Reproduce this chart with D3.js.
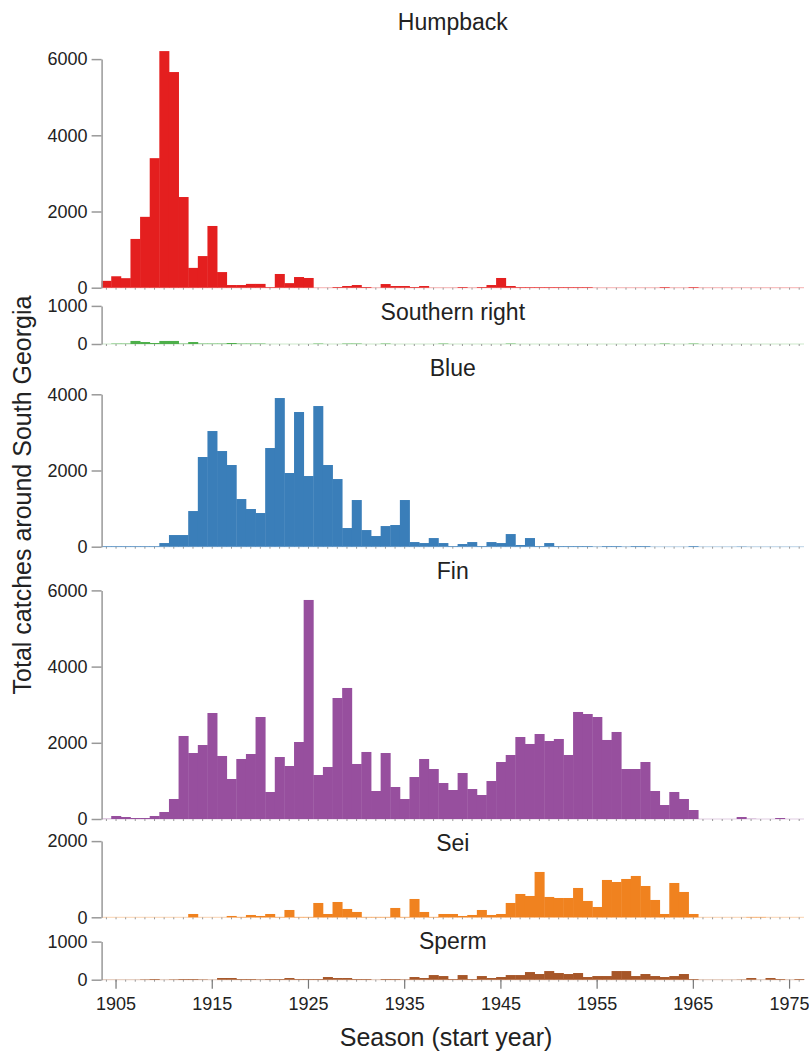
<!DOCTYPE html>
<html>
<head>
<meta charset="utf-8">
<script src="https://cdn.jsdelivr.net/npm/d3@7"></script>
<style>
  body { margin: 0; background: #fff; }
  text { font-family: "Liberation Sans", Arial, Helvetica, sans-serif; fill: #222; }
</style>
</head>
<body>
<script>
// Seasons 1904 .. 1976
var years = d3.range(1904, 1977);

var species = ['Humpback', 'Southern right', 'Blue', 'Fin', 'Sei', 'Sperm'];
var colors = ['#e41f1f', '#4daf4a', '#3a7eb9', '#974f9e', '#f0821f', '#a65628'];

var humpback = [180, 300, 250, 1280, 1860, 3400, 6210, 5660, 2380, 520, 830, 1620, 410, 70, 70, 100, 100, 15,
  360, 120, 280, 255, 0, 0, 18, 44, 70, 18, 0, 96, 44, 44, 18, 44, 0, 0, 0, 18, 0, 18, 70, 255, 44,
  15, 15, 15, 15, 15, 15, 15, 15, 0, 0, 0, 0, 0, 0, 0, 15, 0, 0, 15,
  0, 0, 0, 0, 0, 0, 0, 0, 0, 0, 0];
var southernRight = [0, 10, 10, 80, 52, 26, 80, 80, 10, 52, 10, 10, 10, 26, 10, 10, 10,
  0, 0, 0, 0, 0, 10, 0, 0, 10, 10, 0, 0, 10, 0, 0, 0, 0, 0, 10, 0, 0, 0, 0, 0, 0, 10,
  0, 0, 0, 0, 0, 0, 0, 0, 0, 0, 0, 0, 0, 0, 0, 10, 0, 0, 10,
  0, 0, 0, 0, 0, 0, 0, 0, 0, 0, 0];
var blue = [15, 15, 15, 15, 15, 15, 96, 306, 306, 936, 2354, 3036, 2511, 2144, 1251, 989, 884,
  2590, 3902, 1934, 3535, 1855, 3692, 2144, 1776, 490, 1225, 437, 280, 542, 569, 1225, 122, 96,
  227, 96, 17, 70, 122, 17, 122, 96, 332, 44, 227, 17, 96, 17, 17, 17, 17, 5, 17, 17, 5, 17, 17,
  0, 0, 0, 0, 17, 0, 0, 0, 0, 5, 0, 0, 0, 0, 0, 0];
var fin = [5, 79, 52, 26, 26, 79, 184, 525, 2179, 1732, 1942, 2782, 1654, 1050, 1575, 1706, 2677,
  709, 1627, 1391, 2021, 5749, 1155, 1365, 3176, 3439, 1444, 1759, 735, 1732, 840, 525, 1102, 1575,
  1312, 945, 761, 1207, 787, 630, 997, 1496, 1680, 2152, 1969, 2231, 2047, 2100, 1680, 2809, 2756,
  2677, 2074, 2284, 1312, 1312, 1496, 735, 367, 709, 525, 236, 0, 0, 0, 0, 52, 5, 0, 0, 26, 0, 0];
var sei = [0, 0, 0, 0, 0, 0, 0, 0, 0, 87, 0, 0, 0, 35, 9, 61, 35, 87, 9, 192, 9, 9, 376, 87, 402,
  219, 140, 9, 9, 9, 245, 9, 481, 140, 9, 87, 87, 35, 61, 192, 61, 87, 376, 612, 560, 1190, 534,
  507, 507, 770, 429, 271, 980, 927, 1006, 1085, 822, 455, 87, 901, 665, 87,
  0, 0, 0, 0, 0, 9, 9, 0, 0, 0, 0];
var sperm = [0, 0, 0, 0, 8, 17, 0, 8, 17, 17, 8, 0, 44, 44, 17, 17, 8, 17, 17, 44, 17, 17, 17, 70,
  44, 44, 17, 17, 0, 17, 17, 8, 70, 44, 122, 96, 17, 122, 17, 96, 44, 70, 122, 122, 201, 149, 227,
  175, 149, 175, 70, 96, 96, 227, 227, 96, 149, 96, 70, 96, 149, 17, 0, 0, 0, 0, 5, 44, 0, 44, 17, 0, 17];

var series = [humpback, southernRight, blue, fin, sei, sperm];
var yTicks = [[0, 2000, 4000, 6000], [0, 1000], [0, 2000, 4000], [0, 2000, 4000, 6000], [0, 2000], [0, 1000]];
var xTicks = [1905, 1915, 1925, 1935, 1945, 1955, 1965, 1975];

// layout
var width = 809, height = 1053;
var pxPerCatch = 0.0381;
var baselines = [287.7, 344, 546.7, 819, 917.3, 979.7];

var svg = d3.select('body').append('svg')
  .attr('width', width)
  .attr('height', height);

var x = d3.scaleBand()
  .domain(years)
  .range([101.6, 804])
  .padding(0);

species.forEach(function (name, i) {
  var base = baselines[i];
  var yMax = yTicks[i][yTicks[i].length - 1];
  var y = d3.scaleLinear()
    .domain([0, yMax])
    .range([base, base - yMax * pxPerCatch]);

  var g = svg.append('g').attr('class', 'panel');
  var prev = i === 0 ? -2 : baselines[i - 1];

  g.append('text')
    .attr('x', (101.6 + 804) / 2)
    .attr('y', prev + 32)
    .attr('text-anchor', 'middle')
    .style('font-size', '23px')
    .text(name);

  // light baseline with a small mark per season
  g.append('line')
    .attr('x1', 101.6).attr('x2', 804)
    .attr('y1', base).attr('y2', base)
    .attr('stroke', d3.interpolateRgb(colors[i], '#fff')(0.72))
    .attr('stroke-width', 1.2);

  var minor = g.append('g')
    .attr('transform', 'translate(0,' + base + ')')
    .call(d3.axisBottom(x).tickSize(2).tickFormat(''));
  minor.select('.domain').remove();
  minor.selectAll('line').attr('stroke', '#999');

  g.selectAll('.bar')
    .data(years.map(function (yr, j) { return { year: yr, value: series[i][j] }; }))
    .enter().append('rect')
    .attr('class', 'bar')
    .attr('x', function (d) { return x(d.year); })
    .attr('width', x.bandwidth() + 0.4)
    .attr('y', function (d) { return y(d.value); })
    .attr('height', function (d) { return base - y(d.value); })
    .attr('fill', colors[i]);

  var ax = g.append('g')
    .attr('transform', 'translate(101.6,0)')
    .call(d3.axisLeft(y).tickValues(yTicks[i]).tickFormat(d3.format('d'))
      .tickSize(10).tickSizeOuter(0).tickPadding(4));
  ax.select('.domain').attr('stroke', '#999').attr('stroke-width', 1.5);
  ax.selectAll('line').attr('stroke', '#999').attr('stroke-width', 1.5);
  ax.selectAll('text').style('font-size', '18px').attr('fill', '#222');
});

// bottom axis
var xa = svg.append('g')
  .attr('transform', 'translate(0,' + baselines[5] + ')')
  .call(d3.axisBottom(x).tickValues(xTicks).tickSize(9).tickPadding(9));
xa.select('.domain').remove();
xa.selectAll('line').attr('stroke', '#777').attr('stroke-width', 1.2);
xa.selectAll('text').style('font-size', '18px').attr('fill', '#222');

svg.append('text')
  .attr('x', 446)
  .attr('y', 1046)
  .attr('text-anchor', 'middle')
  .style('font-size', '25px')
  .text('Season (start year)');

svg.append('text')
  .attr('transform', 'translate(31,' + 495 + ') rotate(-90)')
  .attr('text-anchor', 'middle')
  .style('font-size', '25px')
  .text('Total catches around South Georgia');
</script>
</body>
</html>
